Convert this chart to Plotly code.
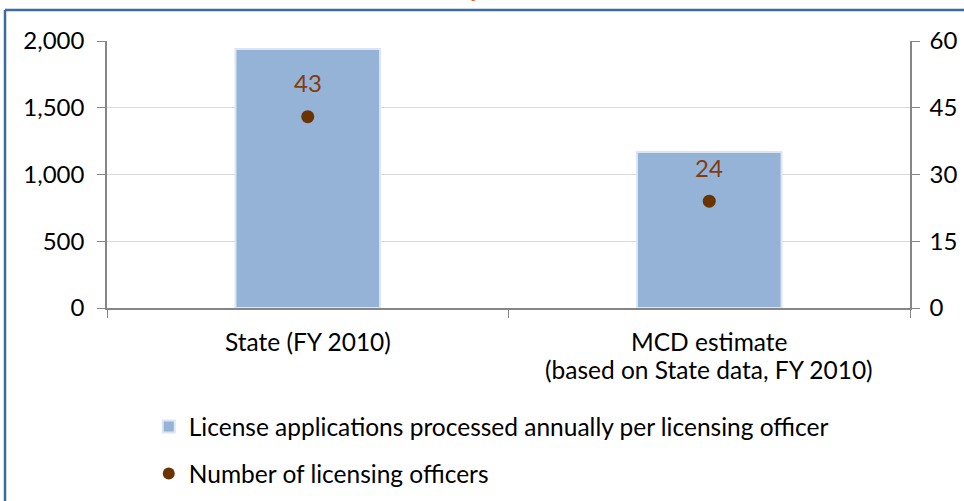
import plotly.graph_objects as go

categories = ["State (FY 2010)", "MCD estimate<br>(based on State data, FY 2010)"]
applications_per_officer = [1940, 1168]
num_officers = [43, 24]
left_ticks = [0, 500, 1000, 1500, 2000]
right_ticks = [0, 15, 30, 45, 60]

FONT = "Lato"
fig = go.Figure()
fig.add_trace(go.Bar(
    x=categories, y=applications_per_officer,
    name="License applications processed annually per licensing officer",
    marker=dict(color="#95B3D7", line=dict(color="#DCE6F2", width=2)),
    width=0.36, yaxis="y", legendgroup="a",
))
fig.add_trace(go.Scatter(
    x=categories, y=num_officers, mode="markers",
    name="Number of licensing officers",
    marker=dict(color="#6B3300", size=13),
    yaxis="y2", legendgroup="b",
))
for c, v in zip(categories, num_officers):
    fig.add_annotation(x=c, y=v, xref="x", yref="y2", text=str(v), showarrow=False,
                       yshift=34, font=dict(family=FONT, size=24, color="#843C0C"))

# category labels, one annotation per text line (tighter line spacing like the reference)
for c in categories:
    for i, line in enumerate(c.split("<br>")):
        fig.add_annotation(x=c, y=0, xref="x", yref="paper", text=line, showarrow=False,
                           xanchor="center", yanchor="middle", yshift=-33 - 28 * i,
                           font=dict(family=FONT, size=24.5, color="#000000"))

# clipped chart title fragment at the very top
fig.add_annotation(x=0.462, y=1.134, xref="paper", yref="paper", text="<b>p</b>",
                   showarrow=False, xanchor="center", yanchor="bottom",
                   font=dict(family=FONT, size=26, color="#E46C0A"))

grid = "#D9D9D9"
axc = "#868686"
fig.update_layout(
    width=964, height=501,
    margin=dict(l=107, r=54, t=41, b=193, autoexpand=False),
    plot_bgcolor="white", paper_bgcolor="white",
    font=dict(family=FONT, size=24, color="#000000"),
    showlegend=True,
    legend=dict(orientation="v", x=0.052, xanchor="left", y=-0.36, yanchor="top",
                font=dict(family=FONT, size=24.5), tracegroupgap=12,
                itemsizing="constant", bgcolor="rgba(0,0,0,0)"),
    xaxis=dict(showline=True, linecolor=axc, linewidth=1.5, ticks="outside",
               tickson="boundaries", ticklen=8, tickcolor=axc, automargin=False,
               showgrid=False, showticklabels=False),
    yaxis=dict(range=[0, 2000], tickvals=left_ticks, tickformat=",", automargin=False,
               showline=True, linecolor=axc, linewidth=1.5, ticks="outside",
               ticklen=8, tickcolor=axc, showgrid=True, gridcolor=grid,
               zeroline=False, tickfont=dict(size=24), ticklabelstandoff=8),
    yaxis2=dict(range=[0, 60], tickvals=right_ticks, overlaying="y", side="right",
                automargin=False,
                showline=True, linecolor=axc, linewidth=1.5, ticks="outside",
                ticklen=8, tickcolor=axc, showgrid=False, zeroline=False,
                tickfont=dict(size=24), ticklabelstandoff=5),
    shapes=[
        dict(type="line", xref="paper", yref="paper", x0=-0.127, x1=1.2, y0=1.116, y1=1.116,
             line=dict(color="#3C6AA5", width=2.5)),
        dict(type="line", xref="paper", yref="paper", x0=-0.127, x1=-0.127, y0=1.116, y1=-1,
             line=dict(color="#3C6AA5", width=2.5)),
    ],
)
fig.write_html("out.html")
